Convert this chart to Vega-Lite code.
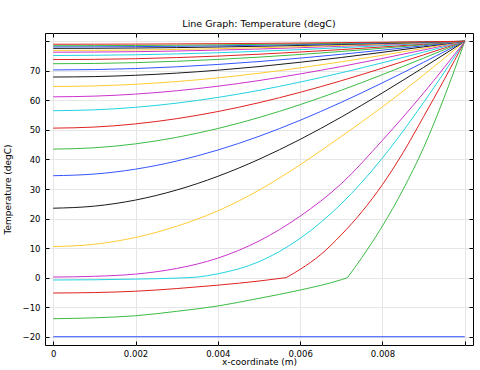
{
  "$schema": "https://vega.github.io/schema/vega-lite/v6.json",
  "width": 428,
  "height": 312,
  "autosize": "none",
  "padding": {"left": 45, "top": 33, "right": 7, "bottom": 25},
  "title": {"text": "Line Graph: Temperature (degC)", "fontSize": 9.5, "fontWeight": "normal", "font": "DejaVu Sans", "color": "#000", "offset": 4},
  "config": {
    "view": {"stroke": "#000", "strokeWidth": 1},
    "font": "DejaVu Sans",
    "axis": {"domain": false, "tickColor": "#000", "tickSize": -4, "labelPadding": 9, "labelFontSize": 8.5, "labelColor": "#000", "titleFontSize": 9, "titleFontWeight": "normal", "titleColor": "#000", "gridColor": "#e6e6e6", "gridWidth": 1}
  },
  "data": {"values": [
    {"s":0,"x":0,"T":-20},{"s":0,"x":0.005,"T":-20},{"s":0,"x":0.01,"T":-20},
    {"s":1,"p":0,"x":0,"T":-13.9},{"s":1,"p":0,"x":0.001,"T":-13.6},{"s":1,"p":0,"x":0.002,"T":-12.9},{"s":1,"p":0,"x":0.003,"T":-11.4},{"s":1,"p":0,"x":0.004,"T":-9.6},{"s":1,"p":0,"x":0.005,"T":-7.0},{"s":1,"p":0,"x":0.006,"T":-4.2},{"s":1,"p":0,"x":0.007,"T":-0.7},{"s":1,"p":0,"x":0.00715,"T":0},
    {"s":1,"p":1,"x":0.00715,"T":0},{"s":1,"p":1,"x":0.0075,"T":6.8},{"s":1,"p":1,"x":0.008,"T":17.5},{"s":1,"p":1,"x":0.0085,"T":29.8},{"s":1,"p":1,"x":0.009,"T":44},{"s":1,"p":1,"x":0.0095,"T":61},{"s":1,"p":1,"x":0.01,"T":80},
    {"s":2,"p":0,"x":0,"T":-5.2},{"s":2,"p":0,"x":0.001,"T":-5.05},{"s":2,"p":0,"x":0.002,"T":-4.6},{"s":2,"p":0,"x":0.003,"T":-3.7},{"s":2,"p":0,"x":0.004,"T":-2.55},{"s":2,"p":0,"x":0.005,"T":-1.15},{"s":2,"p":0,"x":0.00566,"T":0},
    {"s":2,"p":1,"x":0.00566,"T":0},{"s":2,"p":1,"x":0.006,"T":2.8},{"s":2,"p":1,"x":0.0065,"T":7.8},{"s":2,"p":1,"x":0.007,"T":14.5},{"s":2,"p":1,"x":0.0075,"T":22.3},{"s":2,"p":1,"x":0.008,"T":31.5},{"s":2,"p":1,"x":0.0085,"T":42.3},{"s":2,"p":1,"x":0.009,"T":54.5},{"s":2,"p":1,"x":0.0095,"T":67},{"s":2,"p":1,"x":0.01,"T":80},
    {"s":3,"x":0,"T":-0.8},{"s":3,"x":0.001,"T":-0.72},{"s":3,"x":0.002,"T":-0.5},{"s":3,"x":0.003,"T":-0.15},{"s":3,"x":0.0035,"T":0.2},{"s":3,"x":0.004,"T":1.3},{"s":3,"x":0.005,"T":5.4},{"s":3,"x":0.006,"T":13.3},{"s":3,"x":0.007,"T":25},{"s":3,"x":0.008,"T":40.5},{"s":3,"x":0.009,"T":59.3},{"s":3,"x":0.01,"T":80},
    {"s":4,"x":0,"T":0.2},{"s":4,"x":0.001,"T":0.45},{"s":4,"x":0.002,"T":1.2},{"s":4,"x":0.003,"T":3.1},{"s":4,"x":0.004,"T":6.6},{"s":4,"x":0.005,"T":12.4},{"s":4,"x":0.006,"T":20.8},{"s":4,"x":0.007,"T":31.8},{"s":4,"x":0.008,"T":46.5},{"s":4,"x":0.009,"T":62.5},{"s":4,"x":0.01,"T":80},
    {"s":5,"x":0,"T":10.5},{"s":5,"x":0.001,"T":11.3},{"s":5,"x":0.002,"T":13.6},{"s":5,"x":0.003,"T":17.4},{"s":5,"x":0.004,"T":22.6},{"s":5,"x":0.005,"T":29.6},{"s":5,"x":0.006,"T":38.2},{"s":5,"x":0.007,"T":47.8},{"s":5,"x":0.008,"T":57.8},{"s":5,"x":0.009,"T":68.6},{"s":5,"x":0.01,"T":80},
    {"s":6,"x":0,"T":23.5},{"s":6,"x":0.001,"T":24.2},{"s":6,"x":0.002,"T":26.26},{"s":6,"x":0.003,"T":29.66},{"s":6,"x":0.004,"T":34.29},{"s":6,"x":0.005,"T":40.05},{"s":6,"x":0.006,"T":46.79},{"s":6,"x":0.007,"T":54.35},{"s":6,"x":0.008,"T":62.54},{"s":6,"x":0.009,"T":71.16},{"s":6,"x":0.01,"T":80},
    {"s":7,"x":0,"T":34.5},{"s":7,"x":0.001,"T":35.06},{"s":7,"x":0.002,"T":36.72},{"s":7,"x":0.003,"T":39.46},{"s":7,"x":0.004,"T":43.19},{"s":7,"x":0.005,"T":47.83},{"s":7,"x":0.006,"T":53.26},{"s":7,"x":0.007,"T":59.34},{"s":7,"x":0.008,"T":65.94},{"s":7,"x":0.009,"T":72.88},{"s":7,"x":0.01,"T":80},
    {"s":8,"x":0,"T":43.5},{"s":8,"x":0.001,"T":43.95},{"s":8,"x":0.002,"T":45.28},{"s":8,"x":0.003,"T":47.48},{"s":8,"x":0.004,"T":50.47},{"s":8,"x":0.005,"T":54.19},{"s":8,"x":0.006,"T":58.55},{"s":8,"x":0.007,"T":63.43},{"s":8,"x":0.008,"T":68.72},{"s":8,"x":0.009,"T":74.29},{"s":8,"x":0.01,"T":80},
    {"s":9,"x":0,"T":50.6},{"s":9,"x":0.001,"T":50.96},{"s":9,"x":0.002,"T":52.04},{"s":9,"x":0.003,"T":53.8},{"s":9,"x":0.004,"T":56.22},{"s":9,"x":0.005,"T":59.21},{"s":9,"x":0.006,"T":62.72},{"s":9,"x":0.007,"T":66.65},{"s":9,"x":0.008,"T":70.92},{"s":9,"x":0.009,"T":75.4},{"s":9,"x":0.01,"T":80},
    {"s":10,"x":0,"T":56.5},{"s":10,"x":0.001,"T":56.79},{"s":10,"x":0.002,"T":57.65},{"s":10,"x":0.003,"T":59.06},{"s":10,"x":0.004,"T":60.99},{"s":10,"x":0.005,"T":63.38},{"s":10,"x":0.006,"T":66.19},{"s":10,"x":0.007,"T":69.33},{"s":10,"x":0.008,"T":72.74},{"s":10,"x":0.009,"T":76.32},{"s":10,"x":0.01,"T":80},
    {"s":11,"x":0,"T":61.2},{"s":11,"x":0.001,"T":61.43},{"s":11,"x":0.002,"T":62.12},{"s":11,"x":0.003,"T":63.25},{"s":11,"x":0.004,"T":64.79},{"s":11,"x":0.005,"T":66.71},{"s":11,"x":0.006,"T":68.95},{"s":11,"x":0.007,"T":71.46},{"s":11,"x":0.008,"T":74.19},{"s":11,"x":0.009,"T":77.06},{"s":11,"x":0.01,"T":80},
    {"s":12,"x":0,"T":64.7},{"s":12,"x":0.001,"T":64.89},{"s":12,"x":0.002,"T":65.45},{"s":12,"x":0.003,"T":66.37},{"s":12,"x":0.004,"T":67.62},{"s":12,"x":0.005,"T":69.18},{"s":12,"x":0.006,"T":71.01},{"s":12,"x":0.007,"T":73.05},{"s":12,"x":0.008,"T":75.27},{"s":12,"x":0.009,"T":77.61},{"s":12,"x":0.01,"T":80},
    {"s":13,"x":0,"T":67.9},{"s":13,"x":0.001,"T":68.05},{"s":13,"x":0.002,"T":68.49},{"s":13,"x":0.003,"T":69.22},{"s":13,"x":0.004,"T":70.21},{"s":13,"x":0.005,"T":71.44},{"s":13,"x":0.006,"T":72.89},{"s":13,"x":0.007,"T":74.51},{"s":13,"x":0.008,"T":76.26},{"s":13,"x":0.009,"T":78.11},{"s":13,"x":0.01,"T":80},
    {"s":14,"x":0,"T":70.3},{"s":14,"x":0.001,"T":70.42},{"s":14,"x":0.002,"T":70.77},{"s":14,"x":0.003,"T":71.36},{"s":14,"x":0.004,"T":72.15},{"s":14,"x":0.005,"T":73.14},{"s":14,"x":0.006,"T":74.3},{"s":14,"x":0.007,"T":75.6},{"s":14,"x":0.008,"T":77.0},{"s":14,"x":0.009,"T":78.48},{"s":14,"x":0.01,"T":80},
    {"s":15,"x":0,"T":72.4},{"s":15,"x":0.001,"T":72.49},{"s":15,"x":0.002,"T":72.77},{"s":15,"x":0.003,"T":73.23},{"s":15,"x":0.004,"T":73.85},{"s":15,"x":0.005,"T":74.63},{"s":15,"x":0.006,"T":75.53},{"s":15,"x":0.007,"T":76.55},{"s":15,"x":0.008,"T":77.65},{"s":15,"x":0.009,"T":78.81},{"s":15,"x":0.01,"T":80},
    {"s":16,"x":0,"T":73.8},{"s":16,"x":0.001,"T":73.88},{"s":16,"x":0.002,"T":74.1},{"s":16,"x":0.003,"T":74.48},{"s":16,"x":0.004,"T":74.98},{"s":16,"x":0.005,"T":75.62},{"s":16,"x":0.006,"T":76.36},{"s":16,"x":0.007,"T":77.19},{"s":16,"x":0.008,"T":78.08},{"s":16,"x":0.009,"T":79.03},{"s":16,"x":0.01,"T":80},
    {"s":17,"x":0,"T":75.2},{"s":17,"x":0.001,"T":75.26},{"s":17,"x":0.002,"T":75.43},{"s":17,"x":0.003,"T":75.72},{"s":17,"x":0.004,"T":76.12},{"s":17,"x":0.005,"T":76.61},{"s":17,"x":0.006,"T":77.18},{"s":17,"x":0.007,"T":77.82},{"s":17,"x":0.008,"T":78.52},{"s":17,"x":0.009,"T":79.25},{"s":17,"x":0.01,"T":80},
    {"s":18,"x":0,"T":76.3},{"s":18,"x":0.001,"T":76.35},{"s":18,"x":0.002,"T":76.48},{"s":18,"x":0.003,"T":76.7},{"s":18,"x":0.004,"T":77.01},{"s":18,"x":0.005,"T":77.38},{"s":18,"x":0.006,"T":77.83},{"s":18,"x":0.007,"T":78.32},{"s":18,"x":0.008,"T":78.86},{"s":18,"x":0.009,"T":79.42},{"s":18,"x":0.01,"T":80},
    {"s":19,"x":0,"T":76.9},{"s":19,"x":0.001,"T":76.94},{"s":19,"x":0.002,"T":77.05},{"s":19,"x":0.003,"T":77.24},{"s":19,"x":0.004,"T":77.49},{"s":19,"x":0.005,"T":77.81},{"s":19,"x":0.006,"T":78.18},{"s":19,"x":0.007,"T":78.59},{"s":19,"x":0.008,"T":79.04},{"s":19,"x":0.009,"T":79.52},{"s":19,"x":0.01,"T":80},
    {"s":20,"x":0,"T":77.6},{"s":20,"x":0.001,"T":77.63},{"s":20,"x":0.002,"T":77.72},{"s":20,"x":0.003,"T":77.86},{"s":20,"x":0.004,"T":78.06},{"s":20,"x":0.005,"T":78.3},{"s":20,"x":0.006,"T":78.59},{"s":20,"x":0.007,"T":78.91},{"s":20,"x":0.008,"T":79.26},{"s":20,"x":0.009,"T":79.62},{"s":20,"x":0.01,"T":80},
    {"s":21,"x":0,"T":78.1},{"s":21,"x":0.001,"T":78.12},{"s":21,"x":0.002,"T":78.19},{"s":21,"x":0.003,"T":78.31},{"s":21,"x":0.004,"T":78.46},{"s":21,"x":0.005,"T":78.66},{"s":21,"x":0.006,"T":78.88},{"s":21,"x":0.007,"T":79.14},{"s":21,"x":0.008,"T":79.41},{"s":21,"x":0.009,"T":79.7},{"s":21,"x":0.01,"T":80},
    {"s":22,"x":0,"T":78.5},{"s":22,"x":0.001,"T":78.52},{"s":22,"x":0.002,"T":78.57},{"s":22,"x":0.003,"T":78.66},{"s":22,"x":0.004,"T":78.79},{"s":22,"x":0.005,"T":78.94},{"s":22,"x":0.006,"T":79.12},{"s":22,"x":0.007,"T":79.32},{"s":22,"x":0.008,"T":79.54},{"s":22,"x":0.009,"T":79.77},{"s":22,"x":0.01,"T":80},
    {"s":23,"x":0,"T":79.0},{"s":23,"x":0.001,"T":79.01},{"s":23,"x":0.002,"T":79.05},{"s":23,"x":0.003,"T":79.11},{"s":23,"x":0.004,"T":79.19},{"s":23,"x":0.005,"T":79.29},{"s":23,"x":0.006,"T":79.41},{"s":23,"x":0.007,"T":79.55},{"s":23,"x":0.008,"T":79.69},{"s":23,"x":0.009,"T":79.84},{"s":23,"x":0.01,"T":80}
  ]},
  "layer": [
    {
      "mark": {"type": "line", "interpolate": "monotone", "strokeWidth": 1, "clip": true},
      "encoding": {
        "x": {"field": "x", "type": "quantitative",
              "scale": {"domain": [-0.0002, 0.0102], "nice": false, "zero": false},
              "axis": {"orient": "bottom", "values": [0, 0.002, 0.004, 0.006, 0.008, 0.01], "format": "~g", "labelExpr": "datum.value > 0.0095 ? '' : datum.label", "labelPadding": 8, "title": "x-coordinate (m)", "titlePadding": 0, "grid": true}},
        "y": {"field": "T", "type": "quantitative",
              "scale": {"domain": [-22.8, 82.8], "nice": false, "zero": false},
              "axis": {"orient": "left", "values": [-20, -10, 0, 10, 20, 30, 40, 50, 60, 70, 80], "labelExpr": "datum.value > 75 ? '' : datum.label", "title": "Temperature (degC)", "titlePadding": 10, "grid": true}},
        "color": {"field": "s", "type": "nominal", "legend": null,
                  "scale": {"domain": [0,1,2,3,4,5,6,7,8,9,10,11,12,13,14,15,16,17,18,19,20,21,22,23],
                            "range": ["#3355ff","#3cbb44","#e02222","#22d4e0","#cc33cc","#ffcc33","#1a1a1a","#3355ff","#3cbb44","#e02222","#22d4e0","#cc33cc","#ffcc33","#1a1a1a","#3355ff","#3cbb44","#e02222","#22d4e0","#cc33cc","#ffcc33","#1a1a1a","#3355ff","#3cbb44","#e02222"]}},
        "detail": [{"field": "s", "type": "nominal"}, {"field": "p", "type": "nominal"}],
        "order": {"field": "x", "type": "quantitative"}
      }
    },
    {
      "data": {"values": [{"x": 0, "T": 0}]},
      "mark": {"type": "point", "opacity": 0},
      "encoding": {
        "x": {"field": "x", "type": "quantitative",
              "scale": {"domain": [-0.0002, 0.0102], "nice": false, "zero": false},
              "axis": {"orient": "top", "values": [0, 0.002, 0.004, 0.006, 0.008, 0.01], "labels": false, "title": null, "grid": false}},
        "y": {"field": "T", "type": "quantitative",
              "scale": {"domain": [-22.8, 82.8], "nice": false, "zero": false},
              "axis": {"orient": "right", "values": [-20, -10, 0, 10, 20, 30, 40, 50, 60, 70, 80], "labels": false, "title": null, "grid": false}}
      }
    }
  ],
  "resolve": {"axis": {"x": "independent", "y": "independent"}}
}
